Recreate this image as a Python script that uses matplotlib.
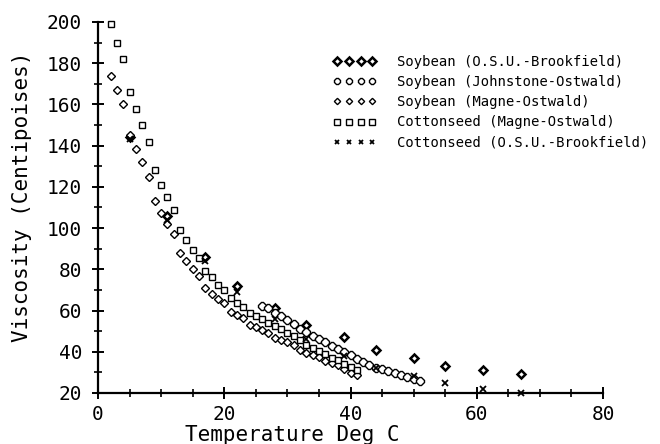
import matplotlib.pyplot as plt
from matplotlib.ticker import MultipleLocator

# Viscosity readings (centipoises) against temperature (deg C)
temps_magne = list(range(2, 42))
soy_magne = [174, 167, 160, 145, 138.6, 132, 125, 113, 107.5, 102,
             97, 88, 84, 80, 76.7, 70.8, 68, 65.6, 63.5, 59.5,
             57.7, 56.3, 53, 51.9, 50.6, 49.1, 46.8, 45.7, 44.6, 43.4,
             40.7, 39.6, 38.6, 37.3, 35.3, 34.4, 33.4, 31.8, 29.9, 28.6]
cotton_magne = [199, 190, 182, 166, 158, 150, 142, 128, 121, 115,
                109, 99, 94, 89.5, 85.5, 79, 76.5, 72.5, 70, 66,
                63.5, 61.5, 59, 57.4, 55.8, 54.1, 52.5, 50.9, 49.3, 47.7,
                45.8, 43.5, 42, 40.3, 39, 37.2, 36, 34.3, 32.8, 31.2]

temps_johnstone = list(range(26, 52))
soy_johnstone = [62, 61, 58.7, 57.4, 55.4, 53.3, 51, 49.5, 47.8, 46,
                 44.5, 43, 41.3, 39.8, 38.2, 36.6, 35, 33.6, 32.3, 31.5,
                 30.5, 29.5, 28.7, 27.9, 26.8, 26]

temps_osu = [5, 11, 17, 22, 28, 33, 39, 44, 50, 55, 61, 67]
soy_osu = [144, 106, 86, 72, 61, 53, 47, 41, 37, 33, 31, 29]
cotton_osu = [143, 104, 84, 69, 56, 46, 38, 32, 28, 25, 22, 20]

plt.rcParams['font.family'] = ['DejaVu Sans Mono']

fig = plt.figure(figsize=(6.6, 4.44), dpi=100)
ax = fig.add_axes([0.1485, 0.1149, 0.7652, 0.8356])

ax.plot(temps_osu, soy_osu, linestyle='', marker='D', ms=4.5, mfc='none',
        mec='black', mew=1.8, label='Soybean (O.S.U.-Brookfield)', clip_on=False)
ax.plot(temps_johnstone, soy_johnstone, linestyle='', marker='8', ms=5.5, mfc='white',
        mec='black', mew=1.0, label='Soybean (Johnstone-Ostwald)', clip_on=False)
ax.plot(temps_magne, soy_magne, linestyle='', marker='D', ms=4, mfc='white',
        mec='black', mew=1.0, label='Soybean (Magne-Ostwald)', clip_on=False)
ax.plot(temps_magne, cotton_magne, linestyle='', marker='s', ms=5, mfc='white',
        mec='black', mew=1.0, label='Cottonseed (Magne-Ostwald)', clip_on=False)
ax.plot(temps_osu, cotton_osu, linestyle='', marker='x', ms=4, mec='black',
        mew=1.3, label='Cottonseed (O.S.U.-Brookfield)', clip_on=False)

ax.set_xlim(0, 80)
ax.set_ylim(20, 200)
ax.xaxis.set_major_locator(MultipleLocator(20))
ax.xaxis.set_minor_locator(MultipleLocator(5))
ax.yaxis.set_major_locator(MultipleLocator(20))
ax.yaxis.set_minor_locator(MultipleLocator(10))

for side in ['top', 'right']:
    ax.spines[side].set_visible(False)
for side in ['left', 'bottom']:
    ax.spines[side].set_linewidth(1.6)

ax.tick_params(which='major', direction='inout', length=9, width=1.4,
               labelsize=14, pad=4)
ax.tick_params(axis='y', which='major', pad=7)
ax.tick_params(which='minor', direction='inout', length=6, width=1.2)

ax.set_xlabel('Temperature Deg C', fontsize=15)
ax.set_ylabel('Viscosity (Centipoises)', fontsize=15)
ax.xaxis.set_label_coords(0.384, -0.085)
ax.yaxis.set_label_coords(-0.13, 0.528)

fig.legend(loc='upper left', bbox_to_anchor=(0.505, 0.877), frameon=False,
           numpoints=4, markerscale=0.8, fontsize=10, handlelength=3.1,
           handletextpad=1.5, labelspacing=0.45, borderpad=0, borderaxespad=0)

fig.savefig('out.png', dpi=100)
